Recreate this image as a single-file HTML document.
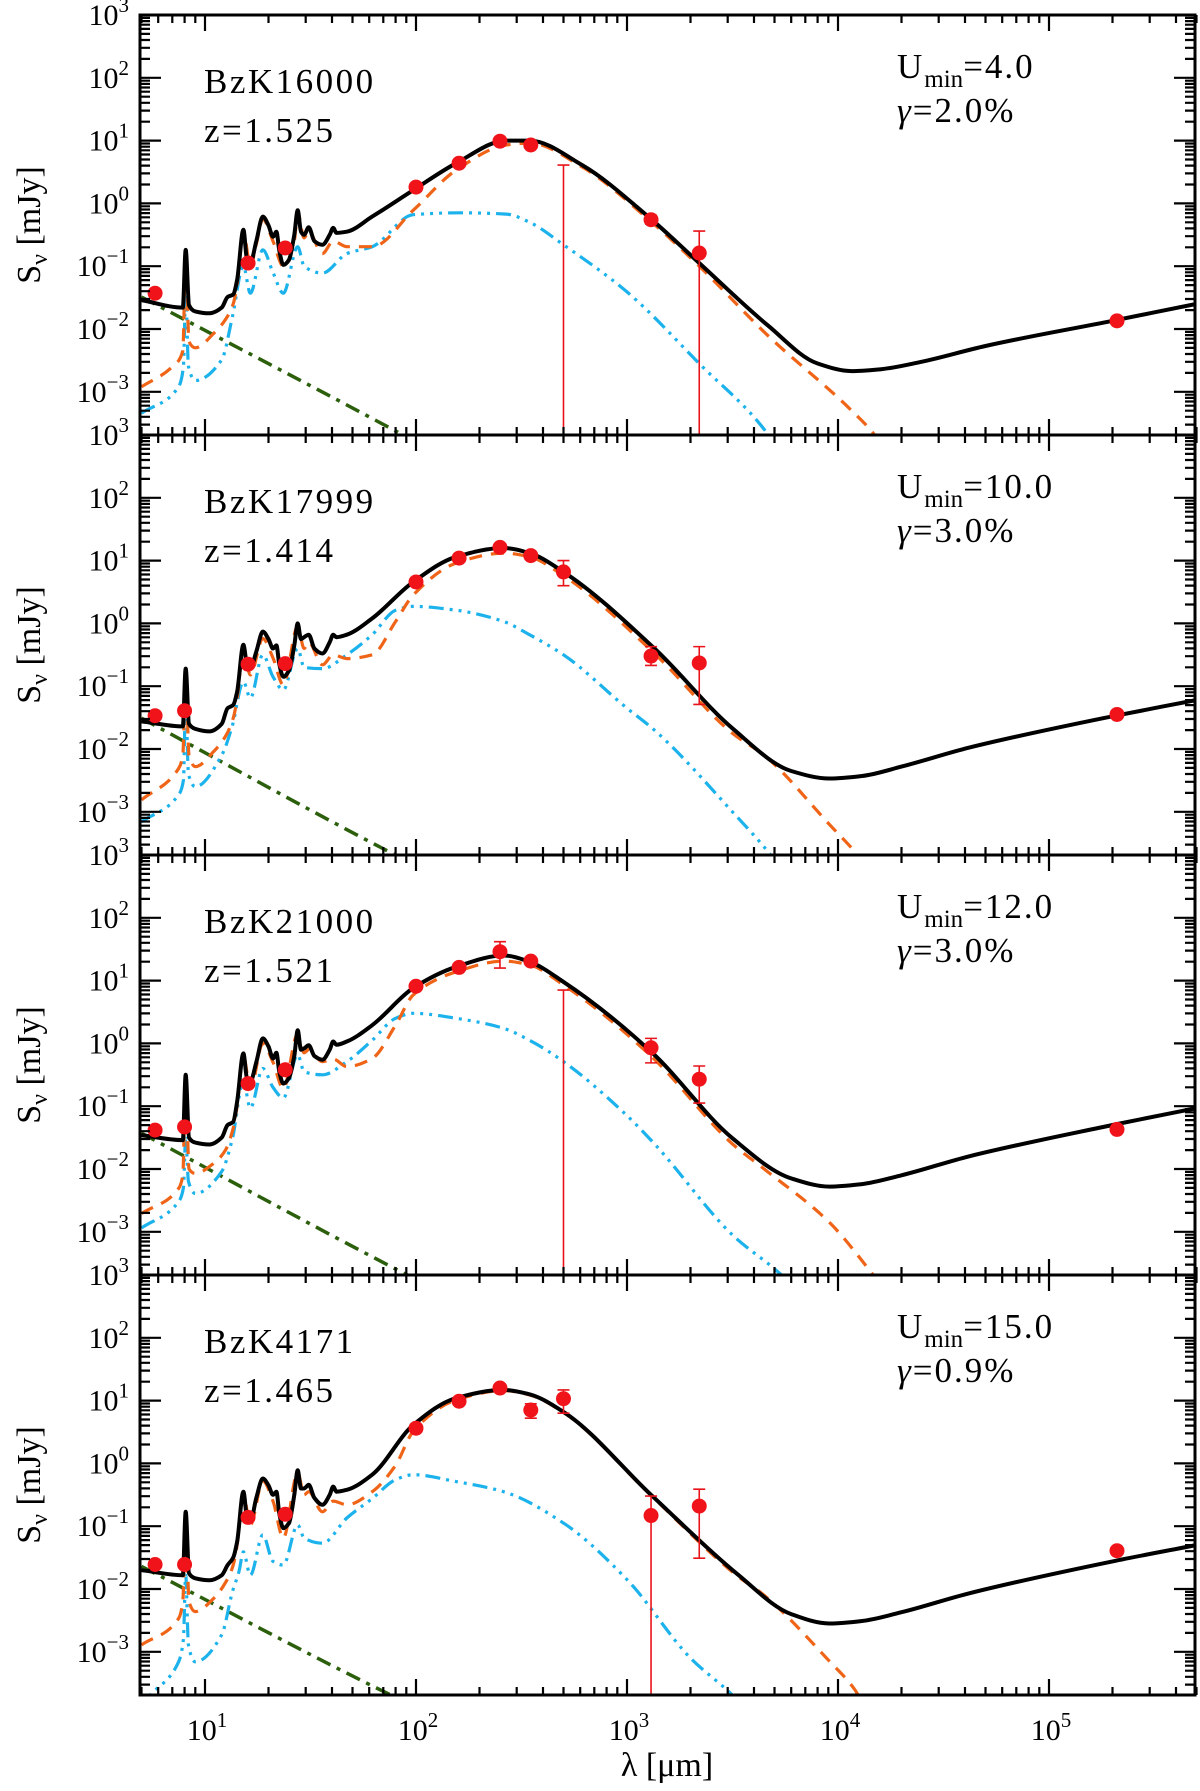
<!DOCTYPE html>
<html><head><meta charset="utf-8"><title>SED fits</title>
<style>
html,body{margin:0;padding:0;background:#fff;}
svg{display:block;font-family:"Liberation Serif",serif;}
</style></head>
<body>
<svg id="chart" width="1200" height="1791" viewBox="0 0 1200 1791" xmlns="http://www.w3.org/2000/svg"></svg>
<script>
// ---------- data ----------
const panelNames = ["BzK16000","BzK17999","BzK21000","BzK4171"];
const panelZ = ["1.525","1.414","1.521","1.465"];
const panelUmin = ["4.0","10.0","12.0","15.0"];
const panelGamma = ["2.0","3.0","3.0","0.9"];
const yTickExps = [-3,-2,-1,0,1,2,3];
const xTickExps = [1,2,3,4,5];

// model curves: [wavelength (um), log10 flux (mJy)]
const totalP1 = [[5,-1.54],[7.85,-1.66],[8.1,-0.74],[8.4,-1.62],[9,-1.72],[10.5,-1.75],[12,-1.66],[12.8,-1.49],[13.6,-1.45],[14.2,-1.22],[15.2,-0.42],[15.8,-0.88],[16.4,-0.95],[17.5,-0.6],[18.8,-0.21],[20,-0.35],[21,-0.53],[21.8,-0.45],[22.5,-0.75],[23.5,-0.98],[25,-0.9],[26.5,-0.5],[27.5,-0.11],[28.5,-0.45],[29.5,-0.5],[31,-0.38],[33,-0.6],[36,-0.66],[39,-0.5],[40.5,-0.39],[42,-0.47],[47,-0.45],[62,-0.21],[97,0.21],[155,0.64],[268,1.0],[345,1.0],[613,0.61],[1280,-0.23],[2200,-0.95],[4640,-1.94],[8000,-2.55],[11600,-2.67],[16000,-2.64],[25000,-2.52],[50000,-2.27],[200000,-1.87],[500000,-1.6]];
const dustP1 = [[5,-2.92],[7,-2.6],[7.85,-2.35],[8.1,-0.8],[8.4,-2.2],[9,-2.3],[11,-2.07],[12.5,-1.85],[13.6,-1.6],[14.2,-1.3],[15.2,-0.45],[16.4,-1.0],[17.5,-0.65],[18.8,-0.25],[21,-0.6],[23.5,-1.0],[26.5,-0.6],[27.5,-0.15],[29.5,-0.55],[31,-0.45],[36,-0.8],[40.5,-0.6],[47,-0.69],[62,-0.69],[97,-0.11],[155,0.53],[268,0.93],[345,0.96],[613,0.58],[1280,-0.27],[2200,-1.0],[4640,-2.1],[11600,-3.3],[15000,-3.7],[16000,-3.85]];
const pdrP1 = [[5,-3.34],[7.5,-2.92],[7.9,-2.6],[8.1,-1.43],[8.35,-2.6],[9,-2.82],[12,-2.49],[13.5,-1.8],[15.2,-1.0],[16.4,-1.43],[18.8,-0.74],[21,-1.1],[23.5,-1.43],[27.5,-0.69],[29.5,-1.0],[36,-1.11],[47,-0.8],[62,-0.69],[97,-0.18],[160,-0.15],[268,-0.17],[345,-0.3],[500,-0.66],[1000,-1.41],[2230,-2.57],[4570,-3.64],[5000,-3.85]];
const starsP1 = [[5,-1.49],[87,-3.69],[95,-3.76]];

const totalP2 = [[5,-1.56],[7.85,-1.64],[8.1,-0.72],[8.4,-1.6],[9,-1.68],[10.5,-1.72],[12,-1.6],[12.8,-1.35],[13.6,-1.3],[14.2,-1.09],[15.2,-0.34],[15.8,-0.65],[16.4,-0.72],[17.5,-0.45],[18.8,-0.13],[20,-0.25],[21,-0.40],[21.8,-0.35],[22.5,-0.65],[23.5,-0.85],[25,-0.75],[26.5,-0.35],[27.5,0.0],[28.5,-0.25],[29.5,-0.22],[31,-0.18],[33,-0.4],[36,-0.48],[39,-0.3],[40.5,-0.18],[42,-0.22],[47,-0.18],[62,0.08],[97,0.66],[155,1.06],[260,1.2],[345,1.12],[500,0.82],[1350,-0.40],[3160,-1.67],[6000,-2.35],[9100,-2.47],[13000,-2.43],[20000,-2.28],[41700,-1.98],[200000,-1.48],[500000,-1.22]];
const dustP2 = [[5,-2.81],[7.5,-2.31],[7.85,-2.1],[8.1,-0.75],[8.4,-2.1],[9,-2.28],[11,-2.04],[12.5,-1.8],[13.6,-1.51],[14.2,-1.2],[15.2,-0.4],[16.4,-0.82],[18.8,-0.24],[21,-0.55],[23.5,-0.98],[27.5,-0.05],[29.5,-0.4],[31,-0.3],[36,-0.66],[40.5,-0.5],[47,-0.56],[62,-0.5],[80,0.03],[97,0.45],[155,0.96],[260,1.12],[345,1.06],[500,0.76],[1350,-0.48],[3160,-1.75],[4470,-2.1],[9100,-3.2],[12400,-3.69],[13500,-3.85]];
const pdrP2 = [[5,-3.16],[7.5,-2.73],[7.9,-2.5],[8.1,-1.19],[8.35,-2.4],[9,-2.6],[12,-2.1],[13.5,-1.62],[15.2,-0.93],[16.4,-1.19],[18.8,-0.5],[21,-0.85],[23.5,-1.06],[27.5,-0.4],[29.5,-0.7],[36,-0.72],[47,-0.5],[62,-0.18],[80,0.21],[97,0.27],[155,0.21],[260,0.03],[345,-0.18],[500,-0.5],[1000,-1.35],[1350,-1.7],[3160,-3.0],[4800,-3.69],[5200,-3.85]];
const starsP2 = [[5,-1.51],[80,-3.69],[88,-3.76]];

const totalP3 = [[5,-1.46],[7.85,-1.54],[8.1,-0.5],[8.4,-1.5],[9,-1.58],[10.5,-1.61],[12,-1.5],[12.8,-1.30],[13.6,-1.25],[14.2,-0.93],[15.2,-0.16],[15.8,-0.55],[16.4,-0.61],[17.5,-0.3],[18.8,0.08],[20,-0.05],[21,-0.24],[21.8,-0.15],[22.5,-0.45],[23.5,-0.64],[25,-0.55],[26.5,-0.2],[27.5,0.21],[28.5,-0.1],[29.5,-0.08],[31,-0.03],[33,-0.2],[36,-0.26],[39,-0.1],[40.5,0.03],[42,-0.02],[47,0.03],[62,0.29],[97,0.88],[155,1.22],[260,1.40],[345,1.30],[500,0.98],[1300,-0.13],[3160,-1.51],[6000,-2.15],[9100,-2.28],[13000,-2.24],[20000,-2.1],[41700,-1.8],[200000,-1.3],[500000,-1.03]];
const dustP3 = [[5,-2.71],[7.5,-2.31],[7.85,-2.1],[8.1,-0.55],[8.4,-2.0],[9,-2.07],[11,-1.91],[12.5,-1.7],[13.6,-1.35],[14.2,-1.0],[15.2,-0.2],[16.4,-0.72],[18.8,0.0],[21,-0.3],[23.5,-0.72],[27.5,0.15],[29.5,-0.15],[31,-0.1],[36,-0.29],[40.5,-0.25],[47,-0.37],[62,-0.24],[80,0.29],[97,0.77],[155,1.14],[260,1.31],[345,1.25],[500,0.93],[1300,-0.2],[3160,-1.6],[4470,-2.0],[9100,-2.85],[14700,-3.69],[16000,-3.85]];
const pdrP3 = [[5,-2.94],[7.5,-2.52],[7.9,-2.3],[8.1,-1.51],[8.35,-2.2],[9,-2.39],[12,-2.04],[13.5,-1.51],[15.2,-0.61],[16.4,-1.03],[18.8,-0.4],[21,-0.7],[23.5,-0.87],[27.5,-0.18],[29.5,-0.45],[36,-0.5],[47,-0.29],[62,0.05],[80,0.4],[97,0.48],[155,0.4],[260,0.24],[345,0.05],[500,-0.29],[1000,-1.15],[1350,-1.6],[3160,-3.05],[5400,-3.69],[6000,-3.85]];
const starsP3 = [[5,-1.43],[91,-3.69],[100,-3.76]];

const totalP4 = [[5,-1.70],[7.85,-1.78],[8.1,-0.77],[8.4,-1.75],[9,-1.83],[10.5,-1.86],[12,-1.78],[12.8,-1.62],[13.6,-1.5],[14.2,-1.25],[15.2,-0.45],[15.8,-0.85],[16.4,-0.93],[17.5,-0.55],[18.8,-0.24],[20,-0.35],[21,-0.5],[21.8,-0.45],[22.5,-0.8],[23.5,-1.03],[25,-0.95],[26.5,-0.5],[27.5,-0.11],[28.5,-0.4],[29.5,-0.4],[31,-0.34],[33,-0.55],[36,-0.66],[39,-0.5],[40.5,-0.37],[42,-0.45],[47,-0.42],[62,-0.18],[97,0.61],[155,1.04],[260,1.17],[345,1.10],[500,0.82],[1300,-0.50],[3300,-1.75],[6000,-2.4],[9100,-2.55],[13000,-2.51],[20000,-2.37],[41700,-2.07],[200000,-1.56],[500000,-1.30]];
const dustP4 = [[5,-2.89],[7.5,-2.47],[7.85,-2.2],[8.1,-0.8],[8.4,-2.2],[9,-2.36],[11,-2.15],[12.5,-1.9],[13.6,-1.62],[14.2,-1.3],[15.2,-0.5],[16.4,-0.98],[18.8,-0.28],[21,-0.6],[23.5,-1.19],[27.5,-0.15],[29.5,-0.5],[31,-0.45],[36,-0.77],[40.5,-0.6],[47,-0.66],[62,-0.45],[80,-0.03],[97,0.51],[155,1.01],[260,1.16],[345,1.09],[500,0.81],[1300,-0.51],[3300,-1.78],[4470,-2.1],[9100,-3.15],[12000,-3.6],[13000,-3.8]];
const pdrP4 = [[5,-3.85],[5.5,-3.69],[7.5,-3.16],[7.9,-2.8],[8.1,-1.78],[8.35,-2.9],[9,-3.16],[12,-2.73],[13.5,-2.04],[14.5,-1.72],[15.2,-1.41],[16.4,-1.78],[18.8,-1.14],[21,-1.56],[23.5,-1.62],[27.5,-0.98],[29.5,-1.19],[36,-1.27],[47,-0.87],[62,-0.56],[80,-0.26],[97,-0.18],[155,-0.29],[260,-0.45],[500,-0.95],[1000,-1.85],[2000,-3.1],[3160,-3.69],[3500,-3.85]];
const starsP4 = [[5,-1.64],[76,-3.69],[84,-3.76]];

// photometry: wavelength, log flux (null = no point), error bar top / bottom (log, null = none)
const obsLam = [5.8,8,16,24,100,160,250,350,500,1300,2200,210000];
const obsP1 = [-1.43,null,-0.95,-0.71,0.26,0.64,0.99,0.93,null,-0.26,-0.79,-1.87];
const errHiP1 = [null,null,null,null,null,null,null,null,0.61,-0.19,-0.44,-1.81];
const errLoP1 = [null,null,null,null,null,null,null,null,-4,-0.33,-4,-1.93];
const obsP2 = [-1.47,-1.39,-0.65,-0.64,0.66,1.04,1.21,1.08,0.82,-0.52,-0.63,-1.45];
const errHiP2 = [null,null,null,null,null,null,null,null,1.0,-0.37,-0.37,null];
const errLoP2 = [null,null,null,null,null,null,null,null,0.6,-0.67,-1.29,null];
const obsP3 = [-1.38,-1.33,-0.64,-0.42,0.91,1.21,1.46,1.31,null,-0.07,-0.57,-1.37];
const errHiP3 = [null,null,null,null,null,null,1.62,null,0.85,0.08,-0.36,null];
const errLoP3 = [null,null,null,null,null,null,1.2,null,-4,-0.31,-0.95,null];
const obsP4 = [-1.61,-1.61,-0.86,-0.81,0.56,0.99,1.2,0.85,1.03,-0.83,-0.68,-1.39];
const errHiP4 = [null,null,null,null,null,null,null,0.95,1.17,-0.52,-0.41,null];
const errLoP4 = [null,null,null,null,null,null,null,0.72,0.8,-4,-1.51,null];

// ---------- layout / axes ----------
const NS = "http://www.w3.org/2000/svg";
const svg = document.getElementById("chart");
const L = 140, R = 1195, TOP = 15, PH = 420, DEC = 62.8;
const X10 = 205, XDEC = 211;
function xs(lam){ return X10 + (Math.log10(lam) - 1) * XDEC; }
function ys(p, lv){ return TOP + PH * p + (3 - lv) * DEC; }
function mk(tag, attrs, parent){
  const e = document.createElementNS(NS, tag);
  for (const k in attrs) e.setAttribute(k, attrs[k]);
  (parent || svg).appendChild(e);
  return e;
}
// monotone cubic (Hermite in x) path
function smoothPath(pts){
  const n = pts.length;
  const s = [];
  for (let i = 0; i < n - 1; i++) s.push((pts[i+1][1] - pts[i][1]) / (pts[i+1][0] - pts[i][0]));
  const m = [];
  for (let i = 0; i < n; i++){
    if (i === 0) m.push(s[0]);
    else if (i === n - 1) m.push(s[n-2]);
    else if (s[i-1] * s[i] <= 0) m.push(0);
    else {
      const h0 = pts[i][0] - pts[i-1][0], h1 = pts[i+1][0] - pts[i][0];
      const w1 = 2*h1 + h0, w2 = h1 + 2*h0;
      m.push((w1 + w2) / (w1 / s[i-1] + w2 / s[i]));
    }
  }
  let d = "M" + pts[0][0].toFixed(1) + "," + pts[0][1].toFixed(1);
  for (let i = 0; i < n - 1; i++){
    const h = pts[i+1][0] - pts[i][0];
    const c1x = pts[i][0] + h/3, c1y = pts[i][1] + m[i]*h/3;
    const c2x = pts[i+1][0] - h/3, c2y = pts[i+1][1] - m[i+1]*h/3;
    d += " C" + c1x.toFixed(1) + "," + c1y.toFixed(1) + " " + c2x.toFixed(1) + "," + c2y.toFixed(1) + " " + pts[i+1][0].toFixed(1) + "," + pts[i+1][1].toFixed(1);
  }
  return d;
}

const defs = mk("defs", {});
const curveSets = [
  [totalP1, dustP1, pdrP1, starsP1, obsP1, errHiP1, errLoP1],
  [totalP2, dustP2, pdrP2, starsP2, obsP2, errHiP2, errLoP2],
  [totalP3, dustP3, pdrP3, starsP3, obsP3, errHiP3, errLoP3],
  [totalP4, dustP4, pdrP4, starsP4, obsP4, errHiP4, errLoP4]
];
const styles = {
  stars: {stroke:"#2c5f0c", "stroke-width":3.5, "stroke-dasharray":"15,7,4,7"},
  pdr:   {stroke:"#1cb2ec", "stroke-width":3.2, "stroke-dasharray":"15,6,3,6,3,6,3,6"},
  dust:  {stroke:"#f06418", "stroke-width":3.2, "stroke-dasharray":"13,9"},
  total: {stroke:"#000000", "stroke-width":4}
};

for (let p = 0; p < 4; p++){
  const top = TOP + PH * p, bot = top + PH;
  const g = mk("g", {});
  
  
  const cp = mk("clipPath", {id: "clip" + p}, defs);
  mk("rect", {x: L, y: top, width: R - L, height: PH}, cp);

  const [tot, dust, pdr, stars, obs, eh, el] = curveSets[p];
  const cg = mk("g", {"clip-path": "url(#clip" + p + ")"}, g);
  const order = [["stars", stars], ["pdr", pdr], ["dust", dust], ["total", tot]];
  for (const [nm, arr] of order){
    const pts = arr.map(d => [xs(d[0]), ys(p, d[1])]);
    const path = mk("path", Object.assign({d: smoothPath(pts), fill: "none", "stroke-linejoin": "round"}, styles[nm]), cg);
    
    
  }
  // observations
  for (let i = 0; i < obsLam.length; i++){
    const x = xs(obsLam[i]);
    if (eh[i] !== null){
      const y1 = ys(p, eh[i]), y2 = Math.min(ys(p, el[i]), bot);
      const eb = mk("path", {d: "M" + x + "," + y1 + " V" + y2 + (ys(p, el[i]) <= bot ? " M" + (x-6) + "," + y2 + " H" + (x+6) : "") + " M" + (x-6) + "," + y1 + " H" + (x+6), stroke: "#e8141a", "stroke-width": 1.6, fill: "none"}, cg);
      
      
    }
    if (obs[i] !== null){
      const c = mk("circle", {cx: x, cy: ys(p, obs[i]), r: 7.5, fill: "#f0141a"}, cg);
      
      
    }
  }
  // frame
  const fr = mk("rect", {x: L, y: top, width: R - L, height: PH, fill: "none", stroke: "#000", "stroke-width": 3}, g);
  
  
  // ticks
  let td = "";
  const lvMin = 3 - PH / DEC;
  for (let e = -4; e <= 3; e++){
    for (let m = 1; m <= 9; m++){
      const lv = e + Math.log10(m);
      if (lv < lvMin || lv > 3) continue;
      const y = ys(p, lv), len = m === 1 ? 21 : 10;
      td += "M" + L + "," + y.toFixed(1) + " h" + len + " M" + R + "," + y.toFixed(1) + " h-" + len + " ";
    }
  }
  for (let e = 0; e <= 5; e++){
    for (let m = 1; m <= 9; m++){
      const lam = m * Math.pow(10, e);
      if (lam < 5 || lam > 5e5) continue;
      const x = xs(lam), len = m === 1 ? 16 : 8;
      td += "M" + x.toFixed(1) + "," + top + " v" + len + " M" + x.toFixed(1) + "," + bot + " v-" + len + " ";
    }
  }
  const ticks = mk("path", {d: td, stroke: "#000", "stroke-width": 2.2, fill: "none"}, g);
  
  
  // y tick labels
  for (const e of yTickExps){
    const t = mk("text", {x: 129, y: ys(p, e) + 10, "text-anchor": "end", "font-size": 30}, g);
    
    
    t.appendChild(document.createTextNode("10"));
    const s = mk("tspan", {dy: -13, "font-size": 21}, t);
    s.textContent = e < 0 ? "\u2212" + (-e) : String(e);
  }
  // y axis title
  const yt = mk("text", {transform: "translate(40," + (top + PH/2) + ") rotate(-90)", "text-anchor": "middle", "font-size": 34}, g);
  
  
  yt.appendChild(document.createTextNode("S"));
  const ysub = mk("tspan", {dy: 7, "font-size": 24}, yt); ysub.textContent = "\u03BD";
  const yrest = mk("tspan", {dy: -7}, yt); yrest.textContent = " [mJy]";
  // labels
  const nm = mk("text", {x: 204, y: top + 78, "font-size": 35, "letter-spacing": 2.5}, g);
  
  
  nm.textContent = panelNames[p];
  const zt = mk("text", {x: 204, y: top + 127, "font-size": 35, "letter-spacing": 2.5}, g);
  
  
  zt.textContent = "z=" + panelZ[p];
  const ut = mk("text", {x: 897, y: top + 63, "font-size": 35, "letter-spacing": 2}, g);
  
  
  ut.appendChild(document.createTextNode("U"));
  const us = mk("tspan", {dy: 9, "font-size": 25, "letter-spacing": 0}, ut); us.textContent = "min";
  const ur = mk("tspan", {dy: -9}, ut); ur.textContent = "=" + panelUmin[p];
  const gt = mk("text", {x: 897, y: top + 107, "font-size": 35, "letter-spacing": 2}, g);
  
  
  const gg = mk("tspan", {"font-style": "italic"}, gt); gg.textContent = "\u03B3";
  const gr = mk("tspan", {}, gt); gr.textContent = "=" + panelGamma[p] + "%";
}
// x tick labels
for (const e of xTickExps){
  const t = mk("text", {x: xs(Math.pow(10, e)) + 2, y: 1740, "text-anchor": "middle", "font-size": 30});
  
  
  t.appendChild(document.createTextNode("10"));
  const s = mk("tspan", {dy: -13, "font-size": 21}, t); s.textContent = String(e);
}
const xt = mk("text", {x: 667, y: 1776, "text-anchor": "middle", "font-size": 34});


xt.textContent = "\u03BB [\u03BCm]";
</script>
</body></html>
